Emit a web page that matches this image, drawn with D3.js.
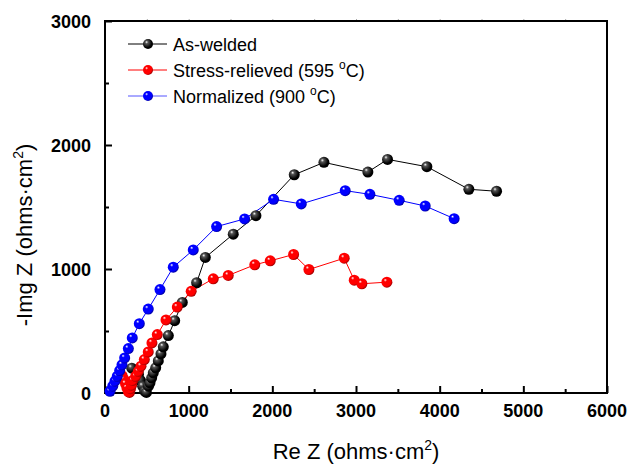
<!DOCTYPE html>
<html><head><meta charset="utf-8">
<script src="https://cdn.jsdelivr.net/npm/d3@7"></script>
<style>body{margin:0;background:#fff}svg{display:block}text{font-family:"Liberation Sans",Arial,sans-serif}</style>
</head><body><svg id="c" width="628" height="467"></svg>
<script>
const seriesNames = ["As-welded", "Stress-relieved (595 °C)", "Normalized (900 °C)"];
const seriesColors = ["#000000", "#ff0000", "#0000ff"];
const asWeldedRe = [320,400,425,450,475,495,520,538,558,577,606,637,669,697,757,833,924,1095,1199,1533,1804,2262,2617,3142,3377,3847,4349,4680];
const asWeldedIm = [200,150,100,55,15,5,55,82,122,163,203,259,315,372,463,583,730,889,1093,1281,1430,1760,1860,1782,1884,1825,1643,1627];
const stressRe = [205,225,245,262,280,292,305,318,331,367,398,430,470,517,561,625,729,864,1030,1294,1473,1790,1975,2254,2437,2859,2979,3070,3369];
const stressIm = [140,110,75,40,12,5,35,63,101,135,175,216,270,331,404,471,589,693,820,921,948,1034,1066,1117,996,1087,910,881,894];
const normRe = [60,92,119,147,175,203,235,279,326,410,517,657,816,1055,1334,1669,2015,2346,2871,3166,3516,3827,4173];
const normIm = [14,55,95,135,181,227,283,358,444,559,677,834,1015,1154,1342,1404,1562,1525,1632,1602,1554,1508,1406];
const xTicks = [0,1000,2000,3000,4000,5000,6000];
const yTicks = [0,1000,2000,3000];

const svg = d3.select("#c");
const L=105,R=607,T=21,B=393;
const x = d3.scaleLinear().domain([0,6000]).range([L,R]);
const y = d3.scaleLinear().domain([0,3000]).range([B,T]);

const defs = svg.append("defs");
seriesColors.forEach((c,i)=>{
  const g = defs.append("radialGradient").attr("id","g"+i).attr("cx","40%").attr("cy","40%").attr("r","60%").attr("fx","35%").attr("fy","30%");
  g.append("stop").attr("offset","0%").attr("stop-color","#ffffff");
  g.append("stop").attr("offset","25%").attr("stop-color", i===0?"#555":c);
  g.append("stop").attr("offset","80%").attr("stop-color", i===0?"#000":c);
  g.append("stop").attr("offset","100%").attr("stop-color", i===0?"#000":d3.color(c).darker(1.2));
});

const data = [
  asWeldedRe.map((v,i)=>[v,asWeldedIm[i]]),
  stressRe.map((v,i)=>[v,stressIm[i]]),
  normRe.map((v,i)=>[v,normIm[i]])
];

// axes
const xAxis = d3.axisBottom(x).tickValues(d3.range(0,6001,500)).tickSize(-7).tickFormat("");
const gx = svg.append("g").attr("transform",`translate(0,${B})`).call(xAxis);
gx.selectAll(".tick line").attr("y2",d=>d%1000===0?-7:-4);
const yAxis = d3.axisLeft(y).tickValues(d3.range(0,3001,500)).tickSize(-7).tickFormat("");
const gy = svg.append("g").attr("transform",`translate(${L},0)`).call(yAxis);
gy.selectAll(".tick line").attr("x2",d=>d%1000===0?7:4);
const gt = svg.append("g").attr("transform",`translate(0,${T})`).call(d3.axisTop(x).tickValues(d3.range(500,6000,500)).tickSize(2).tickFormat(""));
[gx,gy,gt].forEach(g=>{g.select(".domain").remove(); g.selectAll(".tick line").attr("stroke-width",2);});
gt.selectAll(".tick line").attr("stroke-width",1).attr("stroke","#aaa");
svg.append("rect").attr("x",L).attr("y",T).attr("width",R-L).attr("height",B-T).attr("fill","none").attr("stroke","#000").attr("stroke-width",2);

svg.append("g").selectAll("text").data(xTicks).join("text")
  .attr("x",d=>x(d)).attr("y",417).attr("text-anchor","middle").attr("font-size",18).attr("font-weight","bold").text(d=>d);
svg.append("g").selectAll("text").data(yTicks).join("text")
  .attr("x",91).attr("y",d=>y(d)+6.5).attr("text-anchor","end").attr("font-size",18).attr("font-weight","bold").text(d=>d);

// titles
const xt = svg.append("text").attr("x",356).attr("y",459).attr("text-anchor","middle").attr("font-size",22);
xt.append("tspan").text("Re Z (ohms·cm");
xt.append("tspan").attr("font-size",14).attr("dy",-9).text("2");
xt.append("tspan").attr("dy",9).text(")");
const yt = svg.append("text").attr("transform","translate(32,235) rotate(-90)").attr("text-anchor","middle").attr("font-size",22);
yt.append("tspan").text("-Img Z (ohms·cm");
yt.append("tspan").attr("font-size",14).attr("dy",-9).text("2");
yt.append("tspan").attr("dy",9).text(")");

// series
const line = d3.line().x(d=>x(d[0])).y(d=>y(d[1]));
data.forEach((s,i)=>{
  svg.append("path").datum(s).attr("d",line).attr("fill","none").attr("stroke",seriesColors[i]).attr("stroke-width",1);
});
data.forEach((s,i)=>{
  svg.append("g").selectAll("circle").data(s).join("circle")
    .attr("cx",d=>x(d[0])).attr("cy",d=>y(d[1])).attr("r",5.5).attr("fill",`url(#g${i})`);
});

// legend
const legY = [44,70,96];
seriesNames.forEach((n,i)=>{
  const g = svg.append("g");
  g.append("line").attr("x1",128).attr("x2",167).attr("y1",legY[i]).attr("y2",legY[i]).attr("stroke",i===2?"#5555ff":seriesColors[i]).attr("stroke-width",1);
  g.append("circle").attr("cx",148).attr("cy",legY[i]).attr("r",5).attr("fill",`url(#g${i})`);
  const t = g.append("text").attr("x",173).attr("y",legY[i]+6.5).attr("font-size",18);
  if(i===0){ t.text(n); }
  else {
    const parts = n.split("°");
    t.append("tspan").text(parts[0]);
    t.append("tspan").attr("font-size",12).attr("dy",-8).text("o");
    t.append("tspan").attr("dy",8).text(parts[1]);
  }
});
</script></body></html>
